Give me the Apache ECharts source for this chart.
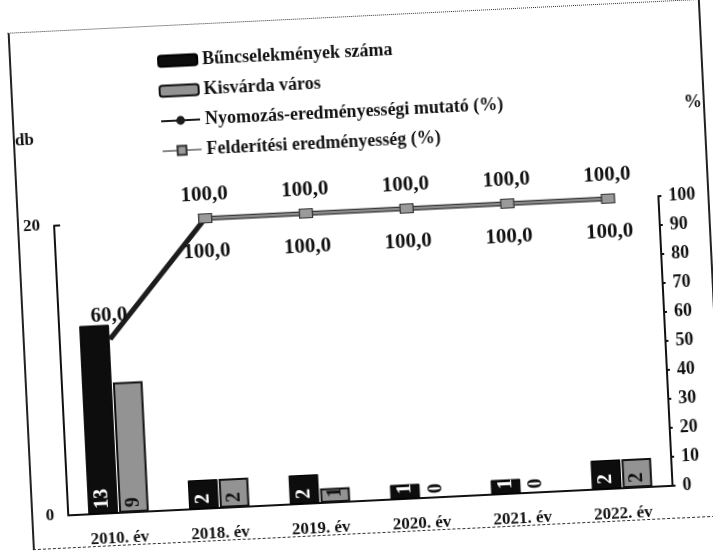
<!DOCTYPE html>
<html>
<head>
<meta charset="utf-8">
<title>Bűncselekmények száma</title>
<script src="https://cdn.jsdelivr.net/npm/echarts@6/dist/echarts.min.js"></script>
<style>
    html, body { margin: 0; padding: 0; background: #fff; }
    /* a beszkennelt ábra kissé el van forgatva */
    #wrap { position: absolute; left: 0; top: 0; width: 713px; height: 555px; transform: rotate(-2.8deg); }
    #frame { position: absolute; left: 20px; top: 16px; width: 689px; height: 516px;
             border-left: 2px solid #222; border-right: 2px solid #222;
             border-top: 1px dotted #333; border-bottom: 1px dashed #333; }
    #main { position: absolute; left: 0; top: 0; width: 713px; height: 555px; }
</style>
</head>
<body>
<div id="wrap">
    <div id="frame"></div>
    <div id="main"></div>
</div>
<script type="text/javascript">
    // adatok
    var years = ['2010. év', '2018. év', '2019. év', '2020. év', '2021. év', '2022. év'];
    var buncselekmenyek = [13, 2, 2, 1, 1, 2];
    var kisvarda = [9, 2, 1, 0, 0, 2];
    var nyomozas = [60, 100, 100, 100, 100, 100];
    var felderites = [null, 100, 100, 100, 100, 100];

    var serif = "'Liberation Serif', 'DejaVu Serif', serif";

    function pct(p) {
        return p.value.toFixed(1).replace('.', ',');
    }

    var myChart = echarts.init(document.getElementById('main'));

    var option = {
        animation: false,
        backgroundColor: 'transparent',
        textStyle: { fontFamily: serif, color: '#111' },
        legend: {
            orient: 'vertical',
            left: 163,
            top: 38,
            itemWidth: 39,
            itemHeight: 11,
            itemGap: 12,
            textStyle: { fontFamily: serif, fontSize: 18, fontWeight: 'bold', color: '#111' },
            data: ['Bűncselekmények száma', 'Kisvárda város',
                   'Nyomozás-eredményességi mutató (%)', 'Felderítési eredményesség (%)']
        },
        grid: { left: 57, right: 45, top: 211, bottom: 54 },
        xAxis: {
            type: 'category',
            data: years,
            axisLine: { lineStyle: { color: '#111', width: 2 } },
            axisTick: { show: false },
            axisLabel: { fontFamily: serif, fontSize: 17, fontWeight: 'bold', color: '#111', margin: 17 }
        },
        yAxis: [
            {
                type: 'value',
                min: 0, max: 20, interval: 20,
                name: 'db',
                nameLocation: 'end',
                nameGap: 78,
                nameTextStyle: { fontFamily: serif, fontSize: 17, fontWeight: 'bold', color: '#111',
                                 align: 'right', padding: [0, 16, 0, 0] },
                axisLine: { show: true, lineStyle: { color: '#111', width: 2 } },
                axisTick: { show: true, inside: true, length: 6, lineStyle: { color: '#111', width: 2 } },
                axisLabel: { fontFamily: serif, fontSize: 17, fontWeight: 'bold', color: '#111', margin: 14 },
                splitLine: { show: false }
            },
            {
                type: 'value',
                position: 'right',
                min: 0, max: 100, interval: 10,
                name: '%',
                nameLocation: 'end',
                nameGap: 83,
                nameTextStyle: { fontFamily: serif, fontSize: 18, fontWeight: 'bold', color: '#111',
                                 align: 'left', padding: [0, 0, 0, 30] },
                axisLine: { show: true, lineStyle: { color: '#111', width: 2 } },
                axisTick: { show: true, length: 3, lineStyle: { color: '#111', width: 2 } },
                axisLabel: { fontFamily: serif, fontSize: 18, fontWeight: 'bold', color: '#111', margin: 10 },
                splitLine: { show: false }
            }
        ],
        series: [
            {
                name: 'Bűncselekmények száma',
                type: 'bar',
                barCategoryGap: '40%',
                barGap: '4%',
                itemStyle: { color: '#0d0d0d', borderColor: '#000', borderWidth: 1 },
                label: {
                    show: true, position: 'insideBottom', rotate: 90, align: 'left', verticalAlign: 'middle',
                    distance: 5, color: '#fff', fontFamily: serif, fontSize: 20, fontWeight: 'bold'
                },
                data: buncselekmenyek
            },
            {
                name: 'Kisvárda város',
                type: 'bar',
                itemStyle: { color: '#939393', borderColor: '#111', borderWidth: 2 },
                label: {
                    show: true, position: 'insideBottom', rotate: 90, align: 'left', verticalAlign: 'middle',
                    distance: 5, color: '#111', fontFamily: serif, fontSize: 20, fontWeight: 'bold'
                },
                data: kisvarda
            },
            {
                name: 'Nyomozás-eredményességi mutató (%)',
                type: 'line',
                yAxisIndex: 1,
                symbol: 'circle',
                symbolSize: 1,
                lineStyle: { color: '#1c1c1c', width: 5 },
                itemStyle: { color: '#1c1c1c' },
                label: {
                    show: true, position: 'top', distance: 12, formatter: pct,
                    color: '#111', fontFamily: serif, fontSize: 21, fontWeight: 'bold'
                },
                data: nyomozas
            },
            {
                name: 'Felderítési eredményesség (%)',
                type: 'line',
                yAxisIndex: 1,
                symbol: 'rect',
                symbolSize: [13, 9],
                lineStyle: { color: '#8a8a8a', width: 3 },
                itemStyle: { color: '#9a9a9a', borderColor: '#333', borderWidth: 1 },
                label: {
                    show: true, position: 'bottom', distance: 18, formatter: pct,
                    color: '#111', fontFamily: serif, fontSize: 21, fontWeight: 'bold'
                },
                data: felderites
            }
        ]
    };

    myChart.setOption(option);
</script>
</body>
</html>
